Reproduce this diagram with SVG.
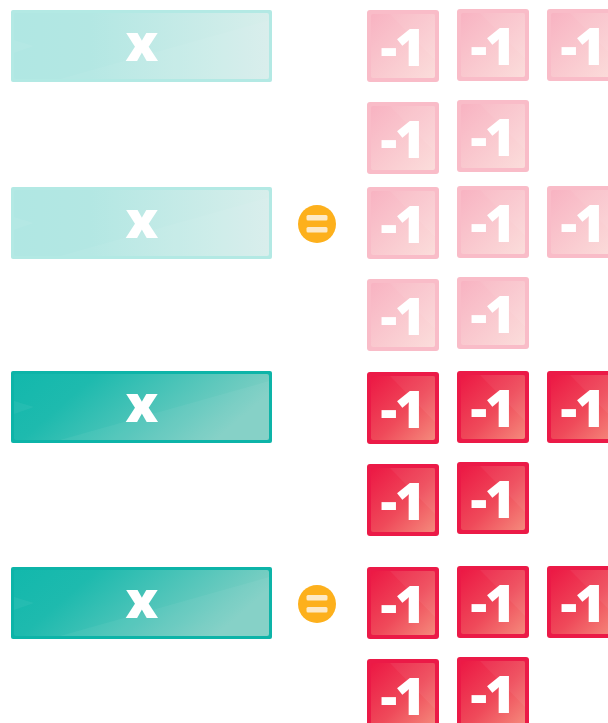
<svg xmlns="http://www.w3.org/2000/svg" width="608" height="723" viewBox="0 0 608 723">
<defs>
<linearGradient id="gLightTile" x1="0" y1="0" x2="1" y2="1">
<stop offset="0" stop-color="#f8b3c2"/><stop offset="1" stop-color="#fbdddb"/>
</linearGradient>
<linearGradient id="gDarkTile" x1="0" y1="0" x2="1" y2="1">
<stop offset="0" stop-color="#ec1844"/><stop offset="0.55" stop-color="#ef4a5a"/><stop offset="1" stop-color="#f58a7c"/>
</linearGradient>
<linearGradient id="gLightBox" x1="0" y1="0" x2="1" y2="0">
<stop offset="0" stop-color="#b0e7e3"/><stop offset="0.3" stop-color="#b3e7e3"/><stop offset="1" stop-color="#d7eeeb"/>
</linearGradient>
<linearGradient id="gDarkBox" x1="0" y1="0" x2="1" y2="0.3">
<stop offset="0" stop-color="#12b8ac"/><stop offset="0.3" stop-color="#1ebaae"/><stop offset="1" stop-color="#80cfc4"/>
</linearGradient>
</defs>
<style>
.lt-o{fill:#f9bcc8}
.lt-i{fill:url(#gLightTile)}
.dt-o{fill:#eb1a47}
.dt-i{fill:url(#gDarkTile)}
.lb-o{fill:#b3e9e4}
.lb-i{fill:url(#gLightBox)}
.db-o{fill:#0db4a8}
.db-i{fill:url(#gDarkBox)}
.hl{fill:#ffffff;opacity:0.05}
.t{font-family:"Open Sans","DejaVu Sans",sans-serif;font-weight:800;fill:#ffffff;text-anchor:middle}
.n{font-size:52px;letter-spacing:-2px}
.x{font-size:52px}
.eq{fill:#fdb01c}
.bar{fill:#fde9c6}
</style>

<g id="xbox1">
<rect class="lb-o" x="11" y="10" width="261" height="72" rx="2"/>
<rect class="lb-i" x="14" y="13" width="255" height="66" rx="2"/>
<polygon class="hl" points="14,40 34,46 14,53"/>
<polygon class="hl" points="60,79 269,20 269,79"/>
<text class="t x" x="142" y="61">x</text>
</g>
<g id="xbox2">
<rect class="lb-o" x="11" y="187" width="261" height="72" rx="2"/>
<rect class="lb-i" x="14" y="190" width="255" height="66" rx="2"/>
<polygon class="hl" points="14,217 34,223 14,230"/>
<polygon class="hl" points="60,256 269,197 269,256"/>
<text class="t x" x="142" y="238">x</text>
</g>
<g id="xbox3">
<rect class="db-o" x="11" y="371" width="261" height="72" rx="2"/>
<rect class="db-i" x="14" y="374" width="255" height="66" rx="2"/>
<polygon class="hl" points="14,401 34,407 14,414"/>
<polygon class="hl" points="60,440 269,381 269,440"/>
<text class="t x" x="142" y="422">x</text>
</g>
<g id="xbox4">
<rect class="db-o" x="11" y="567" width="261" height="72" rx="2"/>
<rect class="db-i" x="14" y="570" width="255" height="66" rx="2"/>
<polygon class="hl" points="14,597 34,603 14,610"/>
<polygon class="hl" points="60,636 269,577 269,636"/>
<text class="t x" x="142" y="618">x</text>
</g>

<g id="eq1">
<circle class="eq" cx="317" cy="224" r="19"/>
<rect class="bar" x="306.5" y="215" width="21" height="5.5" rx="1.5"/>
<rect class="bar" x="306.5" y="227" width="21" height="5.5" rx="1.5"/>
</g>
<g id="eq2">
<circle class="eq" cx="317" cy="604" r="19"/>
<rect class="bar" x="306.5" y="595" width="21" height="5.5" rx="1.5"/>
<rect class="bar" x="306.5" y="607" width="21" height="5.5" rx="1.5"/>
</g>

<!-- group 1 light tiles -->
<g id="t1a"><rect class="lt-o" x="367" y="10" width="72" height="72" rx="3"/><rect class="lt-i" x="371" y="14" width="64" height="64" rx="2"/><polygon class="hl" points="390,14 435,14 435,60"/><text class="t n" x="402" y="66">-1</text></g>
<g id="t1b"><rect class="lt-o" x="457" y="9" width="72" height="72" rx="3"/><rect class="lt-i" x="461" y="13" width="64" height="64" rx="2"/><polygon class="hl" points="480,13 525,13 525,59"/><text class="t n" x="492" y="65">-1</text></g>
<g id="t1c"><rect class="lt-o" x="547" y="9" width="72" height="72" rx="3"/><rect class="lt-i" x="551" y="13" width="64" height="64" rx="2"/><polygon class="hl" points="570,13 615,13 615,59"/><text class="t n" x="582" y="65">-1</text></g>
<g id="t1d"><rect class="lt-o" x="367" y="102" width="72" height="72" rx="3"/><rect class="lt-i" x="371" y="106" width="64" height="64" rx="2"/><polygon class="hl" points="390,106 435,106 435,152"/><text class="t n" x="402" y="158">-1</text></g>
<g id="t1e"><rect class="lt-o" x="457" y="100" width="72" height="72" rx="3"/><rect class="lt-i" x="461" y="104" width="64" height="64" rx="2"/><polygon class="hl" points="480,104 525,104 525,150"/><text class="t n" x="492" y="156">-1</text></g>

<!-- group 2 light tiles -->
<g id="t2a"><rect class="lt-o" x="367" y="187" width="72" height="72" rx="3"/><rect class="lt-i" x="371" y="191" width="64" height="64" rx="2"/><polygon class="hl" points="390,191 435,191 435,237"/><text class="t n" x="402" y="243">-1</text></g>
<g id="t2b"><rect class="lt-o" x="457" y="186" width="72" height="72" rx="3"/><rect class="lt-i" x="461" y="190" width="64" height="64" rx="2"/><polygon class="hl" points="480,190 525,190 525,236"/><text class="t n" x="492" y="242">-1</text></g>
<g id="t2c"><rect class="lt-o" x="547" y="186" width="72" height="72" rx="3"/><rect class="lt-i" x="551" y="190" width="64" height="64" rx="2"/><polygon class="hl" points="570,190 615,190 615,236"/><text class="t n" x="582" y="242">-1</text></g>
<g id="t2d"><rect class="lt-o" x="367" y="279" width="72" height="72" rx="3"/><rect class="lt-i" x="371" y="283" width="64" height="64" rx="2"/><polygon class="hl" points="390,283 435,283 435,329"/><text class="t n" x="402" y="335">-1</text></g>
<g id="t2e"><rect class="lt-o" x="457" y="277" width="72" height="72" rx="3"/><rect class="lt-i" x="461" y="281" width="64" height="64" rx="2"/><polygon class="hl" points="480,281 525,281 525,327"/><text class="t n" x="492" y="333">-1</text></g>

<!-- group 3 dark tiles -->
<g id="t3a"><rect class="dt-o" x="367" y="372" width="72" height="72" rx="3"/><rect class="dt-i" x="371" y="376" width="64" height="64" rx="2"/><polygon class="hl" points="390,376 435,376 435,422"/><text class="t n" x="402" y="428">-1</text></g>
<g id="t3b"><rect class="dt-o" x="457" y="371" width="72" height="72" rx="3"/><rect class="dt-i" x="461" y="375" width="64" height="64" rx="2"/><polygon class="hl" points="480,375 525,375 525,421"/><text class="t n" x="492" y="427">-1</text></g>
<g id="t3c"><rect class="dt-o" x="547" y="371" width="72" height="72" rx="3"/><rect class="dt-i" x="551" y="375" width="64" height="64" rx="2"/><polygon class="hl" points="570,375 615,375 615,421"/><text class="t n" x="582" y="427">-1</text></g>
<g id="t3d"><rect class="dt-o" x="367" y="464" width="72" height="72" rx="3"/><rect class="dt-i" x="371" y="468" width="64" height="64" rx="2"/><polygon class="hl" points="390,468 435,468 435,514"/><text class="t n" x="402" y="520">-1</text></g>
<g id="t3e"><rect class="dt-o" x="457" y="462" width="72" height="72" rx="3"/><rect class="dt-i" x="461" y="466" width="64" height="64" rx="2"/><polygon class="hl" points="480,466 525,466 525,512"/><text class="t n" x="492" y="518">-1</text></g>

<!-- group 4 dark tiles -->
<g id="t4a"><rect class="dt-o" x="367" y="567" width="72" height="72" rx="3"/><rect class="dt-i" x="371" y="571" width="64" height="64" rx="2"/><polygon class="hl" points="390,571 435,571 435,617"/><text class="t n" x="402" y="623">-1</text></g>
<g id="t4b"><rect class="dt-o" x="457" y="566" width="72" height="72" rx="3"/><rect class="dt-i" x="461" y="570" width="64" height="64" rx="2"/><polygon class="hl" points="480,570 525,570 525,616"/><text class="t n" x="492" y="622">-1</text></g>
<g id="t4c"><rect class="dt-o" x="547" y="566" width="72" height="72" rx="3"/><rect class="dt-i" x="551" y="570" width="64" height="64" rx="2"/><polygon class="hl" points="570,570 615,570 615,616"/><text class="t n" x="582" y="622">-1</text></g>
<g id="t4d"><rect class="dt-o" x="367" y="659" width="72" height="72" rx="3"/><rect class="dt-i" x="371" y="663" width="64" height="64" rx="2"/><polygon class="hl" points="390,663 435,663 435,709"/><text class="t n" x="402" y="715">-1</text></g>
<g id="t4e"><rect class="dt-o" x="457" y="657" width="72" height="72" rx="3"/><rect class="dt-i" x="461" y="661" width="64" height="64" rx="2"/><polygon class="hl" points="480,661 525,661 525,707"/><text class="t n" x="492" y="713">-1</text></g>

<g id="connectors"></g>
</svg>
